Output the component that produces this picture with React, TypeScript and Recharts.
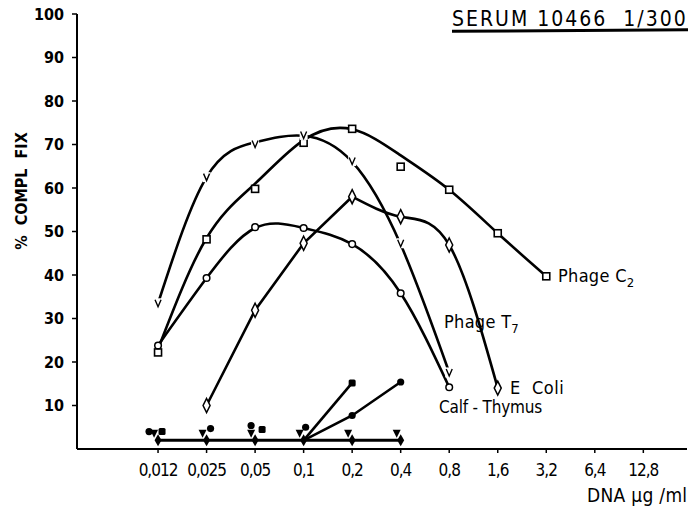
import { ComposedChart, Line, Scatter, XAxis, YAxis } from 'recharts';

const categories = ['0,012', '0,025', '0,05', '0,1', '0,2', '0,4', '0,8', '1,6', '3,2', '6,4', '12,8'];
const yTicks = [10, 20, 30, 40, 50, 60, 70, 80, 90, 100];

// fitted curves (hand drawn in the original), read at each dilution step
const phageC2Curve = [23, 48.5, 61, 71, 73.5, 67.5, 59.6, 49.6, 39.7];
const phageT7Curve = [33.5, 62.5, 70.5, 72, 66, 47, 17.6];
const calfCurve = [23.8, 39.3, 50.8, 50.8, 47.1, 35.8, 14.2];
const eColiRise = [null, 10, 31.9, 47.3, 58];
const eColiFall = [null, null, null, null, 58, 53.4, 46.9, 14];

// measured points
const phageC2Pts = [22.2, 48.2, 59.8, 70.4, 73.6, 64.9, 59.6, 49.6, 39.7];
const phageT7Pts = [33.5, 62.5, 70.1, 72.2, 66.2, 47.3, 17.6];
const calfPts = [23.8, 39.3, 51, 50.8, 47.1, 35.8, 14.2];
const eColiPts = [null, 10, 31.9, 47.3, 58, 53.4, 46.9, 14];

// controls near zero
const ctrlDiamond = [2, 2, 2, 2, 2, 2];
const ctrlTriangle = [3.5, 3.5, 3.5, 3.5, 3.5, 3.5];
const filledCirclePts = [4, 4.7, 5.4, 5, 7.7, 15.4];
const filledCircleLine = [null, null, null, 2, 7.7, 15.4];
const filledSquarePts = [4, null, 4.5, null, 15.2];
const filledSquareLine = [null, null, null, 2, 15.2];

const toRows = (vals: (number | null)[]) =>
  vals.map((y, i) => ({ x: i, y })).filter(d => d.y !== null);

const font = "'DejaVu Sans Condensed', 'DejaVu Sans', sans-serif";

const OpenSquare = (p: any) => (
  <rect x={p.cx - 3.5} y={p.cy - 3.5} width={7} height={7} fill="#fff" stroke="#000" strokeWidth={1.6} />
);
const OpenCircle = (p: any) => <circle cx={p.cx} cy={p.cy} r={3.3} fill="#fff" stroke="#000" strokeWidth={1.5} />;
const OpenDiamond = (p: any) => (
  <path d={`M${p.cx},${p.cy - 7} L${p.cx + 3.5},${p.cy} L${p.cx},${p.cy + 7} L${p.cx - 3.5},${p.cy} Z`} fill="#fff" stroke="#000" strokeWidth={1.5} />
);
const VMark = (p: any) => (
  <g>
    <rect x={p.cx - 4} y={p.cy - 5} width={8} height={10} fill="#fff" />
    <path d={`M${p.cx - 3},${p.cy - 3.5} L${p.cx},${p.cy + 3.5} L${p.cx + 3},${p.cy - 3.5}`} fill="none" stroke="#000" strokeWidth={1.4} />
  </g>
);
const FilledDiamond = (p: any) => (
  <path d={`M${p.cx},${p.cy - 6} L${p.cx + 3.5},${p.cy} L${p.cx},${p.cy + 6} L${p.cx - 3.5},${p.cy} Z`} fill="#000" />
);
const FilledTri = (p: any) => (
  <path d={`M${p.cx - 8},${p.cy - 4} L${p.cx},${p.cy - 4} L${p.cx - 4},${p.cy + 4} Z`} fill="#000" />
);

const circleOffsets = [-9, 4, -4, 2, 0, 0];
const FilledCircleVar = (p: any) => {
  const dx = circleOffsets[p.payload?.x ?? 0] ?? 0;
  return <circle cx={p.cx + dx} cy={p.cy} r={3.6} fill="#000" />;
};
const squareOffsets = [4, 0, 7, 0, 0];
const FilledSquareVar = (p: any) => {
  const dx = squareOffsets[p.payload?.x ?? 0] ?? 0;
  return <rect x={p.cx + dx - 3.5} y={p.cy - 3.5} width={7} height={7} rx={1.5} fill="#000" />;
};

const label = (text: any, left: number, top: number, size = 17, extra: any = {}) => (
  <div style={{ position: 'absolute', left, top, fontFamily: font, fontSize: size, color: '#000', whiteSpace: 'nowrap', lineHeight: 1, ...extra }}>
    {text}
  </div>
);

export default function App() {
  const curveStyle = { stroke: '#000', strokeWidth: 2.6, dot: false, isAnimationActive: false } as const;
  return (
    <div style={{ position: 'absolute', left: 0, top: 0, width: 691, height: 507, background: '#fff' }}>
      <ComposedChart width={691} height={507} margin={{ top: 14, right: 4, bottom: 0, left: 0 }}>
        <XAxis
          type="number"
          dataKey="x"
          domain={[-1.67, 10.9]}
          allowDataOverflow
          ticks={categories.map((_, i) => i)}
          tickFormatter={(v: number) => categories[v] ?? ''}
          height={58}
          tickSize={4}
          tickMargin={11}
          axisLine={{ stroke: '#000', strokeWidth: 2 }}
          tickLine={{ stroke: '#000', strokeWidth: 1.5 }}
          tick={{ fill: '#000', fontSize: 17, fontFamily: font, letterSpacing: -1 }}
        />
        <YAxis
          type="number"
          domain={[0, 100]}
          ticks={yTicks}
          width={77}
          tickSize={5}
          tickMargin={8}
          axisLine={{ stroke: '#000', strokeWidth: 2 }}
          tickLine={{ stroke: '#000', strokeWidth: 1.5 }}
          tick={{ fill: '#000', fontSize: 16, fontFamily: font, fontWeight: 'bold' }}
        />
        <Line data={toRows(phageC2Curve)} dataKey="y" type="natural" {...curveStyle} />
        <Line data={toRows(phageT7Curve)} dataKey="y" type="natural" {...curveStyle} />
        <Line data={toRows(calfCurve)} dataKey="y" type="natural" {...curveStyle} />
        <Line data={toRows(eColiRise)} dataKey="y" type="linear" {...curveStyle} />
        <Line data={toRows(eColiFall)} dataKey="y" type="natural" {...curveStyle} />
        <Line data={toRows(ctrlDiamond)} dataKey="y" type="linear" {...curveStyle} strokeWidth={3} />
        <Line data={toRows(filledCircleLine)} dataKey="y" type="linear" {...curveStyle} />
        <Line data={toRows(filledSquareLine)} dataKey="y" type="linear" {...curveStyle} />

        <Scatter data={toRows(phageC2Pts)} dataKey="y" shape={OpenSquare} isAnimationActive={false} />
        <Scatter data={toRows(phageT7Pts)} dataKey="y" shape={VMark} isAnimationActive={false} />
        <Scatter data={toRows(calfPts)} dataKey="y" shape={OpenCircle} isAnimationActive={false} />
        <Scatter data={toRows(eColiPts)} dataKey="y" shape={OpenDiamond} isAnimationActive={false} />
        <Scatter data={toRows(ctrlDiamond)} dataKey="y" shape={FilledDiamond} isAnimationActive={false} />
        <Scatter data={toRows(ctrlTriangle)} dataKey="y" shape={FilledTri} isAnimationActive={false} />
        <Scatter data={toRows(filledCirclePts)} dataKey="y" shape={FilledCircleVar} isAnimationActive={false} />
        <Scatter data={toRows(filledSquarePts)} dataKey="y" shape={FilledSquareVar} isAnimationActive={false} />
      </ComposedChart>

      {label('SERUM 10466  1/300', 452, 9, 21, { letterSpacing: 2, whiteSpace: 'pre' })}
      <div style={{ position: 'absolute', left: 452, top: 29, width: 236, height: 3, background: '#000', transform: 'rotate(-0.4deg)' }} />
      {label(<>Phage C<sub style={{ fontSize: 13 }}>2</sub></>, 558, 267, 18, { letterSpacing: 0.3 })}
      {label(<>Phage T<sub style={{ fontSize: 13 }}>7</sub></>, 444, 313, 18, { letterSpacing: 0.3 })}
      {label('E  Coli', 510, 379, 18, { whiteSpace: 'pre', letterSpacing: 0.5 })}
      {label('Calf - Thymus', 439, 399, 17, { letterSpacing: -0.2 })}
      {label('DNA µg /ml', 587, 486, 19, { letterSpacing: 0.3 })}
      {label('%  COMPL  FIX', 22, 191, 16, { transform: 'translate(-50%, -50%) rotate(-90deg)', whiteSpace: 'pre', fontWeight: 'bold' })}
    </div>
  );
}
